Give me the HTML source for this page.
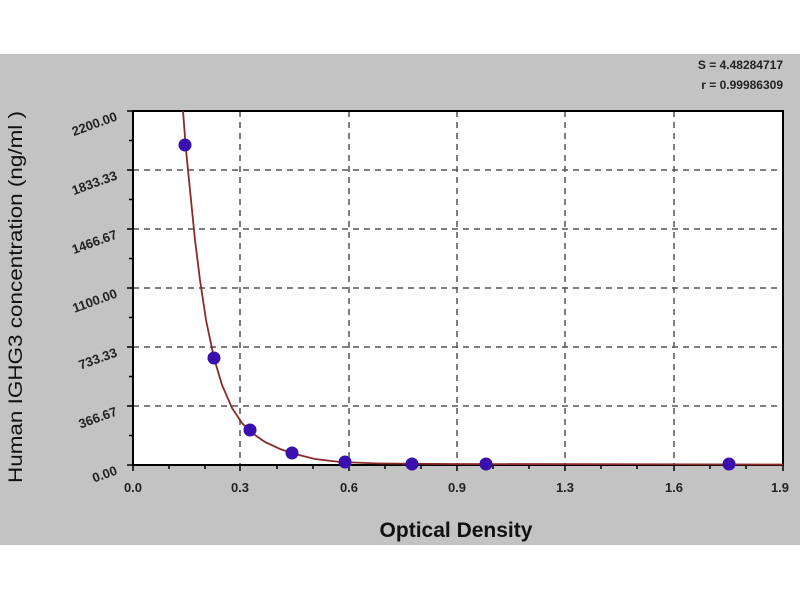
<!DOCTYPE html>
<html><head><style>
body{margin:0;background:#fff;}
</style></head><body>
<svg width="800" height="600" xmlns="http://www.w3.org/2000/svg" font-family="Liberation Sans, sans-serif">
<rect x="0" y="0" width="800" height="600" fill="#fff"/>
<rect x="0" y="54" width="800" height="491" fill="#c3c3c3"/>
<rect x="133" y="111" width="650" height="354" fill="#fff"/>
<g stroke="#555" stroke-width="1.5" stroke-dasharray="6,5">
<line x1="240" y1="111" x2="240" y2="465"/><line x1="349" y1="111" x2="349" y2="465"/>
<line x1="457" y1="111" x2="457" y2="465"/><line x1="565" y1="111" x2="565" y2="465"/>
<line x1="674" y1="111" x2="674" y2="465"/>
<line x1="133" y1="170" x2="783" y2="170"/><line x1="133" y1="229" x2="783" y2="229"/>
<line x1="133" y1="288" x2="783" y2="288"/><line x1="133" y1="347" x2="783" y2="347"/>
<line x1="133" y1="406" x2="783" y2="406"/>
</g>
<rect x="133" y="111" width="650" height="354" fill="none" stroke="#000" stroke-width="2"/>
<g stroke="#000" stroke-width="1.5">
<line x1="127" y1="111" x2="133" y2="111"/><line x1="127" y1="170" x2="133" y2="170"/><line x1="127" y1="229" x2="133" y2="229"/><line x1="127" y1="288" x2="133" y2="288"/><line x1="127" y1="347" x2="133" y2="347"/><line x1="127" y1="406" x2="133" y2="406"/><line x1="127" y1="465" x2="133" y2="465"/>
<line x1="129" y1="140.5" x2="133" y2="140.5"/><line x1="129" y1="199.5" x2="133" y2="199.5"/><line x1="129" y1="258.5" x2="133" y2="258.5"/><line x1="129" y1="317.5" x2="133" y2="317.5"/><line x1="129" y1="376.5" x2="133" y2="376.5"/><line x1="129" y1="435.5" x2="133" y2="435.5"/>
<line x1="133" y1="465" x2="133" y2="471"/><line x1="240" y1="465" x2="240" y2="471"/><line x1="349" y1="465" x2="349" y2="471"/><line x1="457" y1="465" x2="457" y2="471"/><line x1="565" y1="465" x2="565" y2="471"/><line x1="674" y1="465" x2="674" y2="471"/><line x1="783" y1="465" x2="783" y2="471"/>
<line x1="169" y1="465" x2="169" y2="469"/><line x1="205" y1="465" x2="205" y2="469"/><line x1="277" y1="465" x2="277" y2="469"/><line x1="313" y1="465" x2="313" y2="469"/><line x1="385" y1="465" x2="385" y2="469"/><line x1="421" y1="465" x2="421" y2="469"/><line x1="493" y1="465" x2="493" y2="469"/><line x1="529" y1="465" x2="529" y2="469"/><line x1="601" y1="465" x2="601" y2="469"/><line x1="637" y1="465" x2="637" y2="469"/><line x1="710" y1="465" x2="710" y2="469"/><line x1="746" y1="465" x2="746" y2="469"/>
</g>
<path d="M183,111 L186,150 L190,190 L195,240 L200,280 L206,320 L214,358 L222,385 L232,408 L242,423 L252,433 L265,442 L280,449 L295,454 L315,459 L340,462 L380,463.5 L450,464 L783,464.5" fill="none" stroke="#8b2a2a" stroke-width="1.8"/>
<g fill="#3a0fb0">
<circle cx="185" cy="145" r="6.5"/><circle cx="214" cy="358" r="6.5"/><circle cx="250" cy="430" r="6.5"/><circle cx="292" cy="453" r="6.5"/><circle cx="345" cy="462" r="6.5"/><circle cx="412" cy="464" r="6.5"/><circle cx="486" cy="464" r="6.5"/><circle cx="729" cy="464" r="6.5"/>
</g>
<g font-size="13" font-weight="bold" fill="#222" text-anchor="end">
<text transform="translate(118,120) rotate(-20)">2200.00</text>
<text transform="translate(118,179) rotate(-20)">1833.33</text>
<text transform="translate(118,238) rotate(-20)">1466.67</text>
<text transform="translate(118,297) rotate(-20)">1100.00</text>
<text transform="translate(118,356) rotate(-20)">733.33</text>
<text transform="translate(118,415) rotate(-20)">366.67</text>
<text transform="translate(118,474) rotate(-20)">0.00</text>
</g>
<g font-size="13" font-weight="bold" fill="#222" text-anchor="middle">
<text x="133" y="492">0.0</text><text x="240" y="492">0.3</text><text x="349" y="492">0.6</text><text x="457" y="492">0.9</text><text x="565" y="492">1.3</text><text x="674" y="492">1.6</text><text x="780" y="492">1.9</text>
</g>
<text x="456" y="537" font-size="21" font-weight="bold" text-anchor="middle" fill="#111">Optical Density</text>
<text transform="translate(22,297) rotate(-90)" font-size="19" text-anchor="middle" fill="#111" textLength="372" lengthAdjust="spacingAndGlyphs">Human  IGHG3 concentration (ng/ml )</text>
<text x="783" y="69" font-size="12" font-weight="bold" text-anchor="end" fill="#222">S = 4.48284717</text>
<text x="783" y="89" font-size="12" font-weight="bold" text-anchor="end" fill="#222">r = 0.99986309</text>
</svg>
</body></html>
